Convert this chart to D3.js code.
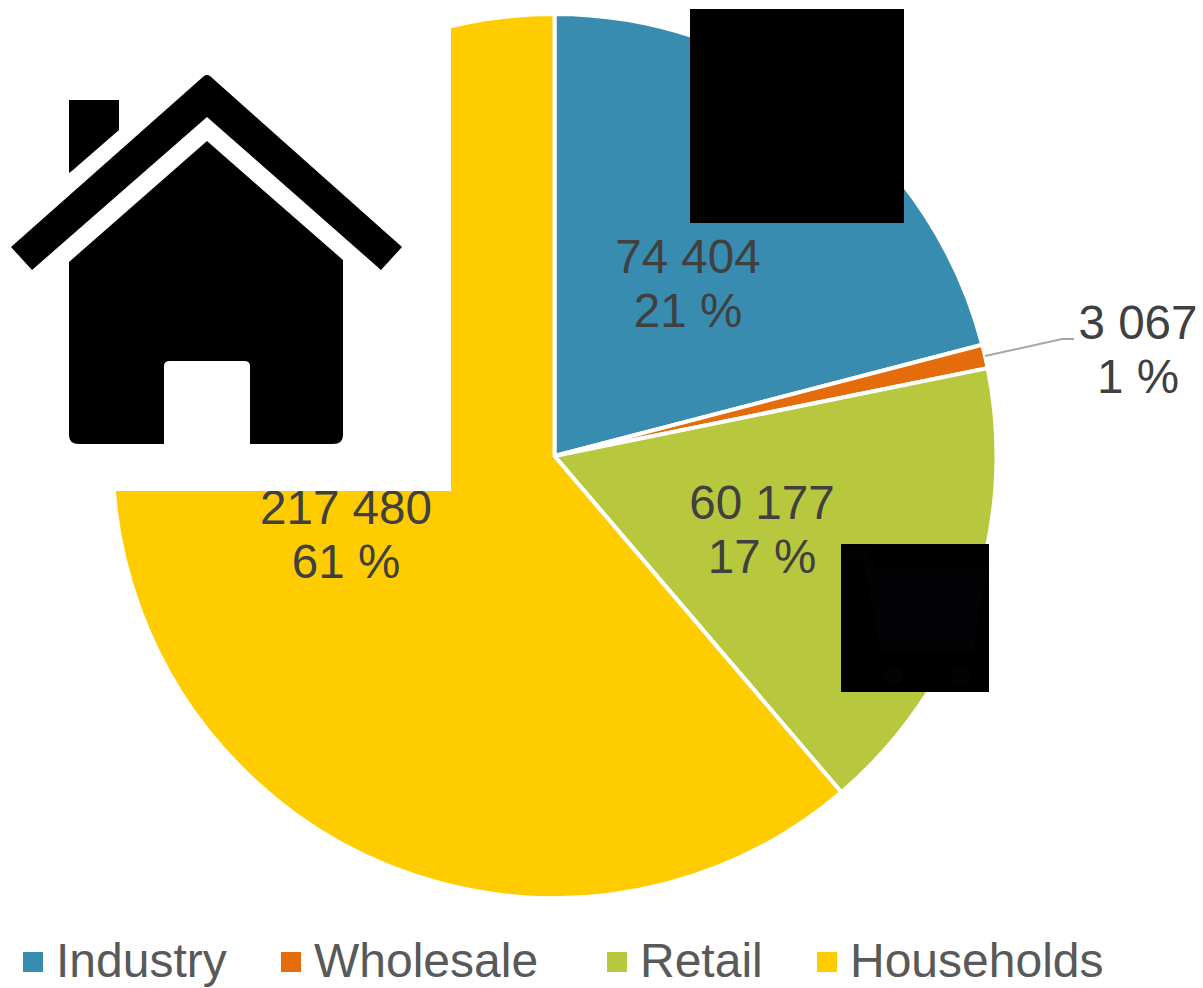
<!DOCTYPE html>
<html>
<head>
<meta charset="utf-8">
<script src="https://cdn.jsdelivr.net/npm/d3@7"></script>
<style>
  html, body { margin: 0; padding: 0; background: #fff; }
  svg { display: block; }
  text { font-family: "Liberation Sans", Arial, sans-serif; }
</style>
</head>
<body>
<div id="main"></div>
<script>
const categories = ["Industry", "Wholesale", "Retail", "Households"];
const sales = [74404, 3067, 60177, 217480];
const sliceColors = ["#378cb0", "#e46c0a", "#b7c83f", "#ffcc00"];

const width = 1203;
const height = 988;
const center = { x: 554.5, y: 456 };
const radius = 442;

const svg = d3.select("#main")
  .append("svg")
  .attr("width", width)
  .attr("height", height)
  .attr("viewBox", `0 0 ${width} ${height}`);

const colorScale = d3.scaleOrdinal(categories, sliceColors);

const pie = d3.pie().sort(null).value((d) => d.value);
const arc = d3.arc().innerRadius(0).outerRadius(radius);

const slices = pie(categories.map((name, i) => ({ name, value: sales[i] })));
const total = d3.sum(sales);

const pieGroup = svg.append("g")
  .attr("transform", `translate(${center.x}, ${center.y})`);

pieGroup.selectAll("path")
  .data(slices)
  .enter()
  .append("path")
  .attr("d", arc)
  .attr("fill", (d) => colorScale(d.data.name))
  .attr("stroke", "#fff")
  .attr("stroke-width", 4)
  .attr("stroke-linejoin", "miter");

// labels sit where the original placed them by hand, not at the arc centroid
const labelPos = [[688, 273], [1138, 339], [762, 519], [346, 524]];
const spaced = d3.formatLocale({ decimal: ".", thousands: " ", grouping: [3], currency: ["", ""] }).format(",");

const labels = svg.selectAll("text.label")
  .data(slices)
  .enter()
  .append("text")
  .attr("class", "label")
  .attr("text-anchor", "middle")
  .attr("font-size", 47.6)
  .attr("fill", "#404040");

labels.append("tspan")
  .attr("x", (d, i) => labelPos[i][0])
  .attr("y", (d, i) => labelPos[i][1])
  .text((d) => spaced(d.data.value));

labels.append("tspan")
  .attr("x", (d, i) => labelPos[i][0])
  .attr("y", (d, i) => labelPos[i][1] + 54)
  .text((d) => `${Math.round(d.data.value / total * 100)} %`);

// leader line for the wholesale label
svg.append("path")
  .attr("d", "M985,356L1062,339L1074,339")
  .attr("fill", "none")
  .attr("stroke", "#a6a6a6")
  .attr("stroke-width", 2);

// pasted icons cover part of the pie and the households label
const house = svg.append("g");
house.append("rect")
  .attr("x", 0)
  .attr("y", 0)
  .attr("width", 451)
  .attr("height", 491)
  .attr("fill", "#fff");
house.append("path")
  .attr("d", "M69,100H119V130L73,170L69,173Z")
  .attr("fill", "#000");
house.append("path")
  .attr("d", "M11,247L204,76Q207,74 210,76L402,247L381,270L207,117L32,270Z")
  .attr("fill", "#000");
house.append("path")
  .attr("d", "M207,141L343,260V435Q343,444 333,444H250V366Q250,361 244,361H170Q164,361 164,366V444H79Q69,444 69,435V262Z")
  .attr("fill", "#000");

svg.append("rect")
  .attr("x", 690)
  .attr("y", 9)
  .attr("width", 214)
  .attr("height", 214)
  .attr("fill", "#000");

const cart = svg.append("g");
cart.append("rect")
  .attr("x", 841)
  .attr("y", 544)
  .attr("width", 148)
  .attr("height", 148)
  .attr("fill", "#000");
cart.append("path")
  .attr("d", "M846,549H868L876,568H987L973,651H880L864,561H846Z")
  .attr("fill", "#030204");
cart.append("circle").attr("cx", 893).attr("cy", 676).attr("r", 10).attr("fill", "#030204");
cart.append("circle").attr("cx", 961).attr("cy", 676).attr("r", 10).attr("fill", "#030204");

// legend
const legendX = [23, 281, 607, 817];
const legend = svg.selectAll("g.legend-item")
  .data(categories)
  .enter()
  .append("g")
  .attr("class", "legend-item")
  .attr("transform", (d, i) => `translate(${legendX[i]}, 952)`);

legend.append("rect")
  .attr("width", 20)
  .attr("height", 20)
  .attr("fill", (d) => colorScale(d));

legend.append("text")
  .attr("x", 33)
  .attr("y", 25)
  .attr("font-size", 48)
  .attr("fill", "#595959")
  .text((d) => d);
</script>
</body>
</html>
